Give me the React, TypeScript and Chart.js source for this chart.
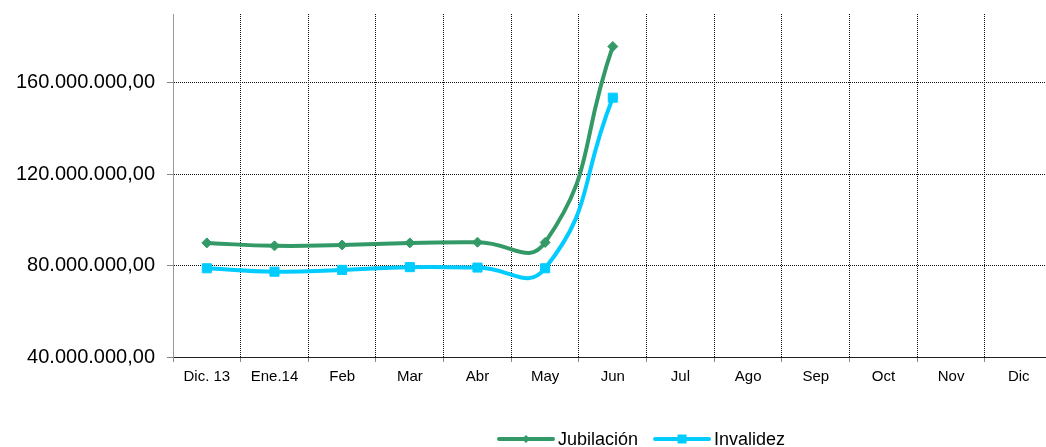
import React, { useEffect, useRef } from "react";
import { Chart, registerables } from "chart.js";

Chart.register(...registerables);

const categories = ["Dic. 13", "Ene.14", "Feb", "Mar", "Abr", "May", "Jun", "Jul", "Ago", "Sep", "Oct", "Nov", "Dic"];
const jubilacion: (number | null)[] = [89.9e6, 88.6e6, 89.0e6, 89.9e6, 90.2e6, 90.1e6, 175.8e6, null, null, null, null, null, null];
const invalidez: (number | null)[] = [78.8e6, 77.3e6, 78.1e6, 79.3e6, 79.1e6, 78.8e6, 153.4e6, null, null, null, null, null, null];
const yTickValues = [40e6, 80e6, 120e6, 160e6];
const seriesLabels = ["Jubilación", "Invalidez"];
const seriesColors = ["#339966", "#00CCFF"];

const FONT = '"Liberation Sans", Arial, sans-serif';

function fmt(v: number): string {
  const s = Math.round(v).toString().replace(/\B(?=(\d{3})+(?!\d))/g, ".");
  return s + ",00";
}

const legendPlugin = {
  id: "customLegend",
  afterDraw(chart: any) {
    const ctx = chart.ctx as CanvasRenderingContext2D;
    ctx.save();
    ctx.font = `18px ${FONT}`;
    ctx.textBaseline = "alphabetic";
    let x = 497;
    const y = 439;
    chart.data.datasets.forEach((ds: any, i: number) => {
      ctx.strokeStyle = ds.borderColor;
      ctx.lineWidth = 4;
      ctx.lineCap = "round";
      ctx.beginPath();
      ctx.moveTo(x + 2, y);
      ctx.lineTo(x + 56, y);
      ctx.stroke();
      const cx = x + 29;
      ctx.fillStyle = ds.borderColor;
      ctx.beginPath();
      if (i === 0) {
        ctx.moveTo(cx, y - 4);
        ctx.lineTo(cx + 4, y);
        ctx.lineTo(cx, y + 4);
        ctx.lineTo(cx - 4, y);
        ctx.closePath();
      } else {
        ctx.rect(cx - 4.5, y - 4.5, 9, 9);
      }
      ctx.fill();
      ctx.fillStyle = "#000";
      ctx.fillText(ds.label, x + 61, 445);
      x += 61 + ctx.measureText(ds.label).width + 15;
    });
    ctx.restore();
  },
};

export default function App() {
  const ref = useRef<HTMLCanvasElement>(null);
  useEffect(() => {
    if (!ref.current) return;
    const chart = new Chart(ref.current, {
      type: "line",
      data: {
        labels: categories,
        datasets: [
          {
            label: seriesLabels[0],
            data: jubilacion,
            borderColor: seriesColors[0],
            backgroundColor: seriesColors[0],
            borderWidth: 4,
            tension: 0.5,
            pointStyle: "rectRot",
            pointRadius: 5,
            pointBorderWidth: 1,
            pointBackgroundColor: seriesColors[0],
            pointBorderColor: seriesColors[0],
            spanGaps: false,
          },
          {
            label: seriesLabels[1],
            data: invalidez,
            borderColor: seriesColors[1],
            backgroundColor: seriesColors[1],
            borderWidth: 4,
            tension: 0.5,
            pointStyle: "rect",
            pointRadius: 6.4,
            pointBorderWidth: 1,
            pointBackgroundColor: seriesColors[1],
            pointBorderColor: seriesColors[1],
            spanGaps: false,
          },
        ],
      },
      options: {
        responsive: false,
        animation: false,
        layout: { padding: { top: 14, right: 2, bottom: 50, left: 0 } },
        plugins: {
          legend: { display: false },
          tooltip: { enabled: false },
        },
        scales: {
          x: {
            offset: true,
            grid: {
              offset: true,
              color: (c: any) => (c.index === 0 ? "rgba(0,0,0,0)" : "#111"),
              tickColor: "#888",
              tickLength: 5,
              lineWidth: 1,
            },
            border: { display: true, color: "#222", dash: [1, 1] },
            ticks: {
              color: "#000",
              font: { family: FONT, size: 15 },
              padding: 6,
              maxRotation: 0,
              autoSkip: false,
            },
            afterFit: (s: any) => {
              s.height = 40;
              s.paddingLeft = 0;
              s.paddingRight = 0;
            },
          },
          y: {
            min: 40e6,
            max: 190e6,
            grid: {
              color: "#111",
              tickColor: "#888",
              tickLength: 6,
              lineWidth: 1,
            },
            border: { display: true, color: "#999", dash: [1, 1] },
            ticks: {
              stepSize: 40e6,
              color: "#000",
              font: { family: FONT, size: 20 },
              padding: 12,
              callback: (v: any) => fmt(Number(v)),
            },
            afterBuildTicks: (s: any) => {
              s.ticks = yTickValues.map((v) => ({ value: v }));
            },
            afterFit: (s: any) => {
              s.width = 173;
              s.paddingTop = 0;
              s.paddingBottom = 0;
            },
          },
        },
      },
      plugins: [legendPlugin],
    });
    return () => chart.destroy();
  }, []);

  return (
    <div style={{ position: "fixed", left: 0, top: 0, width: 1046, height: 447, overflow: "hidden", background: "#fff" }}>
      <canvas ref={ref} width={1060} height={447} style={{ display: "block", width: 1060, height: 447 }} />
    </div>
  );
}
